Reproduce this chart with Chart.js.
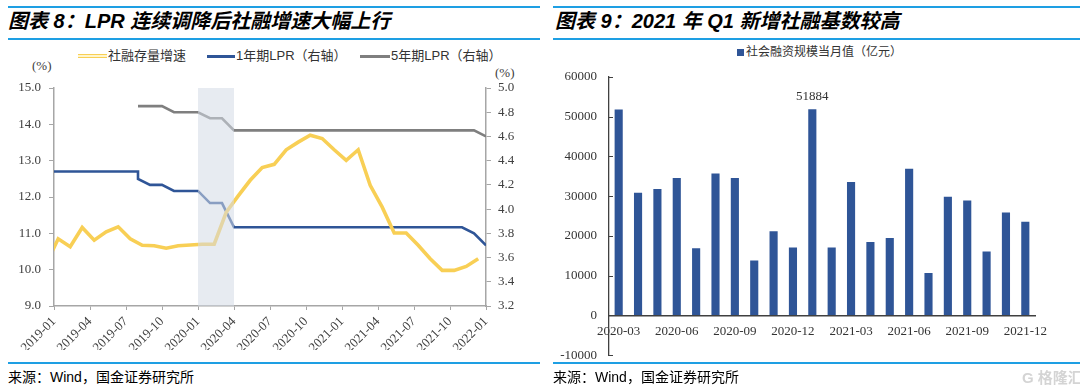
<!DOCTYPE html>
<html><head><meta charset="utf-8">
<script src="https://cdn.jsdelivr.net/npm/chart.js@4/dist/chart.umd.min.js"></script>
<style>
html,body{margin:0;padding:0;background:#fff;}
body{width:1080px;height:387px;position:relative;overflow:hidden;font-family:'Liberation Sans','Noto Sans CJK SC',sans-serif;color:#000;}
.rule{position:absolute;height:2px;background:#1E9FE3;}
.title{position:absolute;top:11px;font-size:20px;line-height:20px;font-weight:bold;font-style:italic;white-space:nowrap;color:#000;}
.source{position:absolute;top:369px;font-size:14px;line-height:16px;white-space:nowrap;color:#000;}
.leg{position:absolute;top:49px;font-size:13px;line-height:14px;color:#333;white-space:nowrap;display:flex;align-items:center;}
.sw{display:inline-block;height:3px;margin-right:1px;}
.unit{position:absolute;font-family:'Liberation Serif',serif;font-size:13px;line-height:14px;color:#404040;}
canvas{position:absolute;}
.wm{position:absolute;left:1022px;top:366px;font-size:15px;font-weight:bold;color:#d4d4d4;white-space:nowrap;}
</style></head>
<body>
<div class="rule" style="left:8px;top:6px;width:532px;"></div>
<div class="title" style="left:8px;">图表 8：LPR 连续调降后社融增速大幅上行</div>
<div class="rule" style="left:8px;top:38px;width:532px;"></div>
<div class="leg" style="left:78px;"><span class="sw" style="width:29px;background:#FFF5CC;border-top:1px solid #F8CF55;border-bottom:1px solid #F8CF55;height:1.5px;"></span>社融存量增速</div>
<div class="leg" style="left:207px;"><span class="sw" style="width:28px;background:#2F5597;"></span>1年期LPR（右轴）</div>
<div class="leg" style="left:360px;"><span class="sw" style="width:30px;background:#7F7F7F;"></span>5年期LPR（右轴）</div>
<div class="unit" style="left:32px;top:59px;">(%)</div>
<div class="unit" style="left:495px;top:66px;">(%)</div>
<canvas id="c1" width="540" height="290" style="left:0;top:60px;"></canvas>
<div class="rule" style="left:8px;top:362px;width:532px;"></div>
<div class="source" style="left:8px;">来源：Wind，国金证券研究所</div>

<div class="rule" style="left:553px;top:6px;width:527px;"></div>
<div class="title" style="left:555px;">图表 9：2021 年 Q1 新增社融基数较高</div>
<div class="rule" style="left:553px;top:38px;width:527px;"></div>
<div class="leg" style="left:737px;top:45px;font-size:12px;"><span style="display:inline-block;width:7px;height:7px;background:#2F5597;margin-right:2px;"></span>社会融资规模当月值（亿元）</div>
<canvas id="c2" width="540" height="375" style="left:540px;top:0px;"></canvas>
<div class="rule" style="left:553px;top:362px;width:527px;"></div>
<div class="source" style="left:553px;">来源：Wind，国金证券研究所</div>
<div class="wm">G 格隆汇</div>

<script>
// ---------- Chart 8 data ----------
const monthTickLabels = ['2019-01','2019-04','2019-07','2019-10','2020-01','2020-04','2020-07','2020-10','2021-01','2021-04','2021-07','2021-10','2022-01'];
// month index counted from 2019-01 (= 0)
const tsfGrowthMonths = [-1,0,1,2,3,4,5,6,7,8,9,10,11,12,13,14,15,16,17,18,19,20,21,22,23,24,25,26,27,28,29,30,31,32,33,34,35];
const tsfGrowth = [10.16,
  10.85,10.63,11.16,10.81,11.04,11.18,10.85,10.67,10.66,10.59,10.66,10.68,
  10.70,10.70,11.58,12.03,12.46,12.81,12.90,13.30,13.51,13.70,13.61,13.30,
  13.01,13.30,12.32,11.72,11.01,11.01,10.67,10.30,9.98,9.98,10.09,10.30];
const lpr1Months = [0,1,2,3,4,5,6,7,7,8,9,10,11,12,13,14,15,16,17,18,19,20,21,22,23,24,25,26,27,28,29,30,31,32,33,34,35,36];
const lpr1 = [4.31,4.31,4.31,4.31,4.31,4.31,4.31,4.31,4.25,4.20,4.20,4.15,4.15,4.15,4.05,4.05,
  3.85,3.85,3.85,3.85,3.85,3.85,3.85,3.85,3.85,3.85,3.85,3.85,3.85,3.85,3.85,3.85,3.85,3.85,3.85,3.85,3.80,3.70];
const lpr5Months = [7,8,9,10,11,12,13,14,15,16,17,18,19,20,21,22,23,24,25,26,27,28,29,30,31,32,33,34,35,36];
const lpr5 = [4.85,4.85,4.85,4.80,4.80,4.80,4.75,4.75,
  4.65,4.65,4.65,4.65,4.65,4.65,4.65,4.65,4.65,4.65,4.65,4.65,4.65,4.65,4.65,4.65,4.65,4.65,4.65,4.65,4.65,4.60];
const shadeFrom = 12, shadeTo = 15; // 2020-01 .. 2020-04

// ---------- Chart 9 data ----------
const tsfMonthLabels = ['2020-03','2020-04','2020-05','2020-06','2020-07','2020-08','2020-09','2020-10','2020-11','2020-12',
  '2021-01','2021-02','2021-03','2021-04','2021-05','2021-06','2021-07','2021-08','2021-09','2021-10','2021-11','2021-12'];
const tsfNew = [51800,30900,31800,34600,16900,35700,34600,13800,21200,17100,
  51884,17100,33600,18500,19500,36900,10700,29900,28900,16100,25900,23600];
const labelledIndex = 10;

Chart.defaults.font.family = "'Liberation Serif', serif";
Chart.defaults.color = '#404040';

const yellowOffset = 0.35;
const toXY = (xs, ys, off) => xs.map((m, i) => ({x: m + (off || 0), y: ys[i]}));

const shadePlugin = {
  id: 'shade',
  afterDatasetsDraw(chart) {
    const {ctx, chartArea, scales} = chart;
    const x0 = scales.x.getPixelForValue(shadeFrom), x1 = scales.x.getPixelForValue(shadeTo);
    ctx.save();
    ctx.fillStyle = 'rgba(212,219,229,0.55)';
    ctx.fillRect(x0, chartArea.top, x1 - x0, chartArea.bottom - chartArea.top);
    ctx.restore();
  }
};

const axisGray = '#A6A6A6';
const tickFont = {family: "'Liberation Serif', serif", size: 13};

new Chart(document.getElementById('c1'), {
  type: 'line',
  data: {
    datasets: [
      {label: '社融存量增速', data: toXY(tsfGrowthMonths, tsfGrowth, yellowOffset), yAxisID: 'y',
        borderColor: '#F8CF55', borderWidth: 3.6, pointRadius: 0, tension: 0},
      {label: '社融存量增速 ', data: toXY(tsfGrowthMonths, tsfGrowth, yellowOffset), yAxisID: 'y',
        borderColor: '#FFF5CC', borderWidth: 1.6, pointRadius: 0, tension: 0},
      {label: '1年期LPR（右轴）', data: toXY(lpr1Months, lpr1), yAxisID: 'y1',
        borderColor: '#2F5597', borderWidth: 2.6, pointRadius: 0, tension: 0},
      {label: '5年期LPR（右轴）', data: toXY(lpr5Months, lpr5), yAxisID: 'y1',
        borderColor: '#7F7F7F', borderWidth: 2.6, pointRadius: 0, tension: 0}
    ]
  },
  options: {
    responsive: false, animation: false,
    layout: {padding: {top: 28, left: 0, right: 0, bottom: 0}},
    plugins: {legend: {display: false}, tooltip: {enabled: false}},
    scales: {
      x: {type: 'linear', min: 0, max: 36,
        ticks: {stepSize: 3, autoSkip: false, maxRotation: 45, minRotation: 45, padding: 4,
          font: {family: "'Liberation Serif', serif", size: 13}, color: '#404040',
          callback: v => monthTickLabels[Math.round(v / 3)]},
        grid: {drawOnChartArea: false, tickLength: 4, color: axisGray},
        border: {color: axisGray, width: 1.5},
        afterFit: s => { s.height = 44; }},
      y: {position: 'left', min: 9, max: 15,
        ticks: {stepSize: 1, padding: 8, font: tickFont, color: '#404040', callback: v => Number(v).toFixed(1)},
        grid: {drawOnChartArea: false, tickLength: 5, color: axisGray},
        border: {color: axisGray, width: 1.5},
        afterFit: s => { s.width = 54; }},
      y1: {position: 'right', min: 3.2, max: 5.0,
        ticks: {stepSize: 0.2, padding: 7, font: tickFont, color: '#404040', callback: v => Number(v).toFixed(1)},
        grid: {drawOnChartArea: false, tickLength: 5, color: axisGray},
        border: {color: axisGray, width: 1.5},
        afterFit: s => { s.width = 54; }}
    }
  },
  plugins: [shadePlugin]
});

const barLabelPlugin = {
  id: 'barLabel',
  afterDatasetsDraw(chart) {
    const el = chart.getDatasetMeta(0).data[labelledIndex];
    const ctx = chart.ctx;
    ctx.save();
    ctx.font = "13px 'Liberation Serif', serif";
    ctx.fillStyle = '#333';
    ctx.textAlign = 'center';
    ctx.textBaseline = 'bottom';
    ctx.fillText(String(tsfNew[labelledIndex]), el.x, el.y - 6);
    ctx.restore();
  }
};
const innerTickPlugin = {
  id: 'innerTicks',
  afterDraw(chart) {
    const s = chart.scales.y, ctx = chart.ctx, left = chart.chartArea.left;
    ctx.save();
    ctx.strokeStyle = '#404040';
    ctx.lineWidth = 1;
    s.ticks.forEach(t => {
      const y = Math.round(s.getPixelForValue(t.value)) + 0.5;
      ctx.beginPath(); ctx.moveTo(left, y); ctx.lineTo(left + 4, y); ctx.stroke();
    });
    ctx.restore();
  }
};

new Chart(document.getElementById('c2'), {
  type: 'bar',
  data: {labels: tsfMonthLabels,
    datasets: [{label: '社会融资规模当月值（亿元）', data: tsfNew, backgroundColor: '#2F5597',
      barPercentage: 0.42, categoryPercentage: 1}]},
  options: {
    responsive: false, animation: false,
    layout: {padding: {top: 77, right: 45, bottom: 5, left: 0}},
    plugins: {legend: {display: false}, tooltip: {enabled: false}},
    scales: {
      x: {position: {y: 0},
        grid: {display: true, drawOnChartArea: false, drawTicks: false},
        border: {color: '#404040', width: 1.6},
        ticks: {autoSkip: false, maxRotation: 0, minRotation: 0, padding: 8, font: tickFont, color: '#333',
          callback: (v, i) => (i % 3 === 0 ? tsfMonthLabels[i] : '')}},
      y: {min: -10000, max: 60000,
        ticks: {stepSize: 10000, padding: 12, font: tickFont, color: '#333', callback: v => String(v)},
        grid: {display: true, drawOnChartArea: false, drawTicks: false},
        border: {color: '#404040', width: 1.3},
        afterFit: s => { s.width = 69; }}
    }
  },
  plugins: [barLabelPlugin, innerTickPlugin]
});
</script>
</body></html>
